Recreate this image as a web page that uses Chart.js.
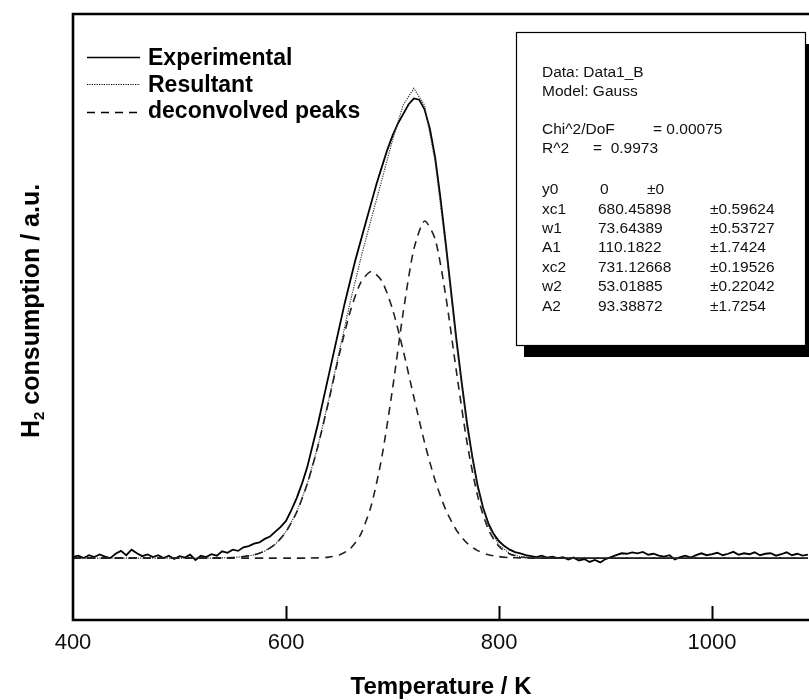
<!DOCTYPE html>
<html>
<head>
<meta charset="utf-8">
<script src="https://cdn.jsdelivr.net/npm/chart.js@4.4.1/dist/chart.umd.min.js"></script>
<style>
  html, body { margin: 0; padding: 0; background: #fff; }
  #wrap { width: 809px; height: 700px; }
</style>
</head>
<body>
<div id="wrap"><canvas id="mycanvas"></canvas></div>
<script>
// Experimental TPR trace (temperature in K, signal in a.u.)
const expTemps = [
  400, 405, 410, 415, 420, 425, 430, 435, 440, 445, 450, 455, 460, 465, 470, 475, 480, 485, 490, 495,
  500, 505, 510, 515, 520, 525, 530, 535, 540, 545, 550, 555, 560, 565, 570, 575, 580, 585, 590, 595,
  600, 605, 610, 615, 620, 625, 630, 635, 640, 645, 650, 655, 660, 665, 670, 675, 680, 685, 690, 695,
  700, 705, 710, 715, 720, 725, 730, 735, 740, 745, 750, 755, 760, 765, 770, 775, 780, 785, 790, 795,
  800, 805, 810, 815, 820, 825, 830, 835, 840, 845, 850, 855, 860, 865, 870, 875, 880, 885, 890, 895,
  900, 905, 910, 915, 920, 925, 930, 935, 940, 945, 950, 955, 960, 965, 970, 975, 980, 985, 990, 995,
  1000, 1005, 1010, 1015, 1020, 1025, 1030, 1035, 1040, 1045, 1050, 1055, 1060, 1065, 1070, 1075, 1080, 1085, 1090
];
const expSignal = [
  0.005, 0.010, 0.000, 0.012, 0.004, 0.015, 0.006, 0.000, 0.018, 0.030, 0.012, 0.035, 0.020, 0.008, 0.015, 0.004, 0.012, 0.000, 0.010, -0.004,
  0.008, 0.002, 0.014, -0.008, 0.010, 0.004, 0.016, 0.010, 0.028, 0.022, 0.035, 0.030, 0.045, 0.050, 0.060, 0.065, 0.080, 0.090, 0.110, 0.130,
  0.155, 0.200, 0.250, 0.310, 0.380, 0.470, 0.560, 0.660, 0.760, 0.860, 0.960, 1.060, 1.150, 1.240, 1.320, 1.400, 1.480, 1.560, 1.630, 1.700,
  1.760, 1.810, 1.850, 1.890, 1.915, 1.910, 1.870, 1.790, 1.670, 1.500, 1.310, 1.110, 0.910, 0.730, 0.560, 0.420, 0.300, 0.210, 0.145, 0.100,
  0.070, 0.050, 0.035, 0.025, 0.020, 0.012, 0.008, 0.004, 0.010, 0.002, 0.006, 0.000, 0.004, -0.006, 0.002, -0.010, -0.004, -0.016, -0.008, -0.018,
  -0.004, 0.004, 0.012, 0.020, 0.018, 0.024, 0.020, 0.026, 0.014, 0.018, 0.010, 0.006, 0.012, -0.006, 0.004, 0.010, 0.002, 0.012, 0.020, 0.012,
  0.016, 0.022, 0.012, 0.018, 0.026, 0.014, 0.020, 0.016, 0.024, 0.012, 0.018, 0.020, 0.010, 0.016, 0.024, 0.012, 0.018, 0.010, 0.014
];

// Fitted curves (two Gaussians and their sum)
const fitTemps = [
  400, 410, 420, 430, 440, 450, 460, 470, 480, 490, 500, 510, 520, 530, 540, 550, 560, 570, 580, 590,
  600, 610, 620, 630, 640, 650, 660, 670, 680, 690, 700, 710, 720, 730, 740, 750, 760, 770, 780, 790,
  800, 810, 820, 830, 840, 850, 860, 870, 880, 890, 900, 910, 920, 930, 940, 950, 960, 970, 980, 990,
  1000, 1010, 1020, 1030, 1040, 1050, 1060, 1070, 1080, 1090
];
const resultant = [
  0, 0, 0, 0, 0, 0, 0, 0, 0, 0, 0, 0, 0.000, 0.000, 0.001, 0.002, 0.006, 0.013, 0.029, 0.058,
  0.110, 0.191, 0.310, 0.468, 0.657, 0.861, 1.062, 1.245, 1.413, 1.576, 1.742, 1.888, 1.957, 1.887, 1.652, 1.292, 0.893, 0.542, 0.288, 0.134,
  0.054, 0.019, 0.006, 0.002, 0.000, 0, 0, 0, 0, 0, 0, 0, 0, 0, 0, 0, 0, 0, 0, 0,
  0, 0, 0, 0, 0, 0, 0, 0, 0, 0
];
const peak1 = [
  0, 0, 0, 0, 0, 0, 0, 0, 0, 0, 0, 0, 0.000, 0.000, 0.001, 0.002, 0.006, 0.013, 0.029, 0.058,
  0.110, 0.191, 0.310, 0.467, 0.653, 0.848, 1.023, 1.147, 1.194, 1.154, 1.037, 0.865, 0.671, 0.483, 0.323, 0.201, 0.116, 0.062, 0.031, 0.014,
  0.006, 0.002, 0.001, 0.000, 0, 0, 0, 0, 0, 0, 0, 0, 0, 0, 0, 0, 0, 0, 0, 0,
  0, 0, 0, 0, 0, 0, 0, 0, 0, 0
];
const peak2 = [
  0, 0, 0, 0, 0, 0, 0, 0, 0, 0, 0, 0, 0, 0, 0, 0, 0, 0, 0, 0,
  0.000, 0.000, 0.000, 0.001, 0.004, 0.013, 0.038, 0.098, 0.219, 0.422, 0.705, 1.023, 1.287, 1.404, 1.329, 1.091, 0.777, 0.480, 0.257, 0.119,
  0.048, 0.017, 0.005, 0.001, 0.000, 0, 0, 0, 0, 0, 0, 0, 0, 0, 0, 0, 0, 0, 0, 0,
  0, 0, 0, 0, 0, 0, 0, 0, 0, 0
];

const xTicks = [400, 600, 800, 1000];

// Origin fit report shown in the box
const fitHeader = ['Data: Data1_B', 'Model: Gauss'];
const fitStats = [['Chi^2/DoF', '= 0.00075'], ['R^2', '=  0.9973']];
const fitParams = [
  ['y0', '0', '\u00b10'],
  ['xc1', '680.45898', '\u00b10.59624'],
  ['w1', '73.64389', '\u00b10.53727'],
  ['A1', '110.1822', '\u00b11.7424'],
  ['xc2', '731.12668', '\u00b10.19526'],
  ['w2', '53.01885', '\u00b10.22042'],
  ['A2', '93.38872', '\u00b11.7254']
];

const legendNames = ['Experimental', 'Resultant', 'deconvolved peaks'];

function toPoints(xs, ys) {
    return xs.map((x, i) => ({ x: x, y: ys[i] }));
}

const FONT = '"Liberation Sans", Arial, sans-serif';

const decor = {
    id: 'decor',
    afterDatasetsDraw(chart) {
        const ctx = chart.ctx;
        const a = chart.chartArea;
        const xs = chart.scales.x;
        ctx.save();
        ctx.strokeStyle = '#000';
        ctx.lineCap = 'square';

        // frame: top, left, bottom
        ctx.lineWidth = 2.6;
        ctx.beginPath();
        ctx.moveTo(a.right + 2, a.top);
        ctx.lineTo(a.left, a.top);
        ctx.lineTo(a.left, a.bottom);
        ctx.lineTo(a.right + 2, a.bottom);
        ctx.stroke();

        // inward ticks
        ctx.lineWidth = 2;
        xTicks.forEach(v => {
            if (v === xs.min) return;
            const px = Math.round(xs.getPixelForValue(v)) + 0.5;
            ctx.beginPath();
            ctx.moveTo(px, a.bottom);
            ctx.lineTo(px, a.bottom - 13);
            ctx.stroke();
        });

        // legend
        const legendRows = [
            { y: 57, base: 65, dash: [], width: 1.6 },
            { y: 84, base: 92, dash: [1.2, 1.2], width: 1.2 },
            { y: 112, base: 118, dash: [8, 6], width: 1.6 }
        ];
        ctx.font = 'bold 23px ' + FONT;
        ctx.fillStyle = '#000';
        ctx.textBaseline = 'alphabetic';
        legendRows.forEach((r, i) => {
            ctx.lineCap = 'butt';
            ctx.lineWidth = r.width;
            ctx.setLineDash(r.dash);
            ctx.beginPath();
            ctx.moveTo(87, r.y + 0.5);
            ctx.lineTo(140, r.y + 0.5);
            ctx.stroke();
            ctx.setLineDash([]);
            ctx.fillText(legendNames[i], 148, r.base);
        });

        // fit report box with drop shadow
        const bx = 516, by = 32, bw = 289, bh = 313;
        ctx.fillStyle = '#000';
        ctx.fillRect(bx + 8, by + 12, bw, bh);
        ctx.fillStyle = '#fff';
        ctx.fillRect(bx, by, bw, bh);
        ctx.lineWidth = 1.2;
        ctx.strokeRect(bx + 0.5, by + 0.5, bw, bh);

        ctx.fillStyle = '#111';
        ctx.font = '15.5px ' + FONT;
        ctx.textBaseline = 'middle';
        ctx.fillText(fitHeader[0], 542, 73);
        ctx.fillText(fitHeader[1], 542, 92);
        ctx.fillText(fitStats[0][0], 542, 130);
        ctx.fillText(fitStats[0][1], 653, 130);
        ctx.fillText(fitStats[1][0], 542, 149);
        ctx.fillText(fitStats[1][1], 593, 149);
        fitParams.forEach((p, i) => {
            const y = 190 + i * 19.4;
            ctx.fillText(p[0], 542, y);
            ctx.fillText(p[1], i === 0 ? 600 : 598, y);
            ctx.fillText(p[2], i === 0 ? 647 : 710, y);
        });

        // axis titles
        ctx.fillStyle = '#000';
        ctx.font = 'bold 24px ' + FONT;
        ctx.textAlign = 'center';
        ctx.fillText('Temperature / K', (a.left + a.right) / 2, 687);

        ctx.translate(32, 438);
        ctx.rotate(-Math.PI / 2);
        ctx.textAlign = 'left';
        ctx.textBaseline = 'middle';
        ctx.font = 'bold 25px ' + FONT;
        ctx.fillText('H', 0, 0);
        let off = ctx.measureText('H').width;
        ctx.font = 'bold 15px ' + FONT;
        ctx.fillText('2', off, 8);
        off += ctx.measureText('2').width;
        ctx.font = 'bold 25px ' + FONT;
        ctx.fillText(' consumption / a.u.', off, 0);
        ctx.restore();
    }
};

const ctx = document.getElementById('mycanvas');
new Chart(ctx, {
    type: 'line',
    data: {
        datasets: [
            {
                label: 'deconvolved peak 1',
                data: toPoints(fitTemps, peak1),
                borderColor: '#222',
                borderWidth: 1.6,
                borderDash: [8, 6],
                pointRadius: 0,
                tension: 0.25
            },
            {
                label: 'deconvolved peak 2',
                data: toPoints(fitTemps, peak2),
                borderColor: '#222',
                borderWidth: 1.6,
                borderDash: [8, 6],
                pointRadius: 0,
                tension: 0.25
            },
            {
                label: 'Resultant',
                data: toPoints(fitTemps, resultant),
                borderColor: '#333',
                borderWidth: 1.2,
                borderDash: [1.2, 1.2],
                pointRadius: 0,
                tension: 0
            },
            {
                label: 'Experimental',
                data: toPoints(expTemps, expSignal),
                borderColor: '#000',
                borderWidth: 1.8,
                pointRadius: 0,
                tension: 0
            }
        ]
    },
    options: {
        responsive: true,
        maintainAspectRatio: false,
        animation: false,
        events: [],
        layout: { padding: { left: 73, top: 14, right: 0, bottom: 0 } },
        plugins: {
            legend: { display: false },
            tooltip: { enabled: false }
        },
        scales: {
            x: {
                type: 'linear',
                min: 400,
                max: 1091,
                grid: { display: false, drawTicks: false },
                border: { display: false },
                afterBuildTicks: s => { s.ticks = xTicks.map(v => ({ value: v })); },
                afterFit: s => { s.height = 80; },
                ticks: {
                    padding: 10,
                    color: '#111',
                    font: { family: FONT, size: 22 },
                    maxRotation: 0,
                    callback: v => String(v)
                }
            },
            y: {
                display: false,
                min: -0.258,
                max: 2.267
            }
        }
    },
    plugins: [decor]
});
</script>
</body>
</html>
